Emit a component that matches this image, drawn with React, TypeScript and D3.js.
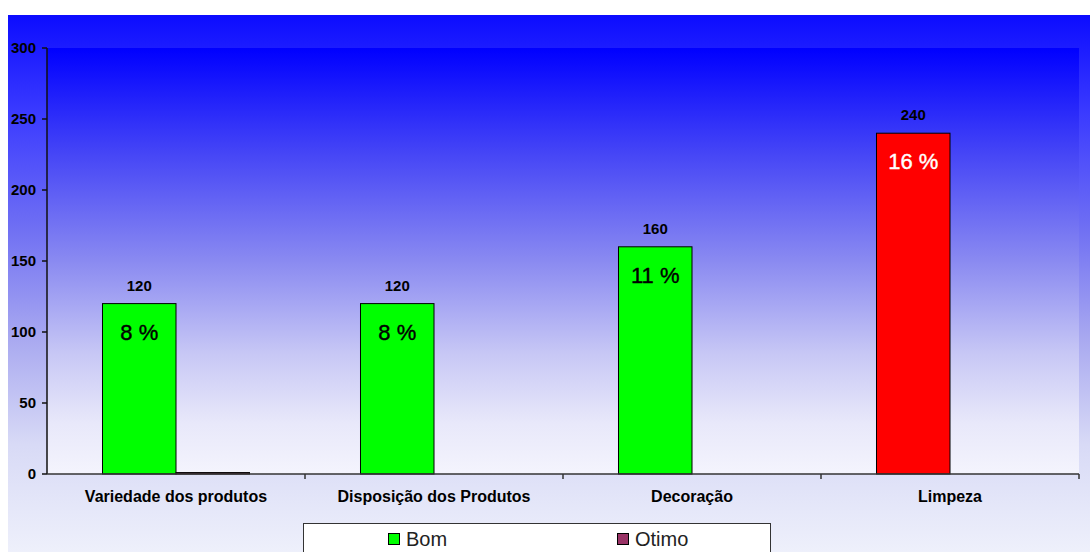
import React from "react";
import * as d3 from "d3";

// Survey results per aspect of the store
const categories = ["Variedade dos produtos", "Disposição dos Produtos", "Decoração", "Limpeza"];
const bomValues = [120, 120, 160, 240];
const otimoValues = [1, 0, 0, 0];
const percentLabels = ["8 %", "8 %", "11 %", "16 %"];
const seriesNames = ["Bom", "Otimo"];
const yTicks = [0, 50, 100, 150, 200, 250, 300];

const W = 1090;
const H = 552;
const margin = { left: 47, right: 11, top: 48, bottom: 78 };
const FONT = "'Liberation Sans', Arial, sans-serif";

const GREEN = "#00ff00";
const RED = "#ff0000";
const PURPLE = "#993366";

export default function App() {
  const x0 = d3
    .scaleBand<string>()
    .domain(categories)
    .range([margin.left, W - margin.right])
    .paddingInner(0)
    .paddingOuter(0);
  const x1 = d3
    .scaleBand<string>()
    .domain(seriesNames)
    .range([0, x0.bandwidth()])
    .paddingInner(0)
    .paddingOuter(0.755);
  const y = d3.scaleLinear().domain([0, 300]).range([H - margin.bottom, margin.top]);

  const plotLeft = margin.left;
  const plotRight = W - margin.right;
  const plotTop = margin.top;
  const plotBottom = H - margin.bottom;

  const barColor = (i: number) => (i === categories.length - 1 ? RED : GREEN);

  return (
    <svg
      width={W}
      height={H}
      style={{ position: "absolute", left: 0, top: 0, display: "block" }}
      fontFamily={FONT}
    >
      <defs>
        <linearGradient id="outerBg" x1="0" y1="0" x2="0" y2="1">
          <stop offset="0" stopColor="#0c0cff" />
          <stop offset="0.18" stopColor="#3a3aff" />
          <stop offset="0.4" stopColor="#7070f3" />
          <stop offset="0.6" stopColor="#a8a8f0" />
          <stop offset="0.8" stopColor="#d8daf6" />
          <stop offset="1" stopColor="#eef0fb" />
        </linearGradient>
        <linearGradient id="plotBg" x1="0" y1="0" x2="0" y2="1">
          <stop offset="0" stopColor="#0000ff" />
          <stop offset="0.25" stopColor="#4646f6" />
          <stop offset="0.5" stopColor="#8a8af1" />
          <stop offset="0.72" stopColor="#c8c8f5" />
          <stop offset="0.88" stopColor="#e8e8fa" />
          <stop offset="1" stopColor="#f4f4fd" />
        </linearGradient>
      </defs>

      <rect x={0} y={0} width={W} height={H} fill="#ffffff" />
      <rect x={8} y={15} width={W - 8} height={H - 15} fill="url(#outerBg)" />
      <rect
        x={plotLeft}
        y={plotTop}
        width={plotRight - plotLeft}
        height={plotBottom - plotTop}
        fill="url(#plotBg)"
      />

      {/* Bom bars */}
      {categories.map((c, i) => {
        const bx = (x0(c) ?? 0) + (x1("Bom") ?? 0);
        const top = y(bomValues[i]);
        return (
          <rect
            key={"bom" + c}
            x={bx}
            y={top}
            width={x1.bandwidth()}
            height={y(0) - top}
            fill={barColor(i)}
            stroke="#000"
            strokeWidth={1}
          />
        );
      })}

      {/* Otimo bars */}
      {categories.map((c, i) => {
        if (otimoValues[i] <= 0) return null;
        const bx = (x0(c) ?? 0) + (x1("Otimo") ?? 0);
        const top = y(otimoValues[i]);
        return (
          <rect
            key={"otimo" + c}
            x={bx}
            y={top}
            width={x1.bandwidth()}
            height={y(0) - top}
            fill={PURPLE}
            stroke="#000"
            strokeWidth={1}
          />
        );
      })}

      {/* value labels above Bom bars */}
      {categories.map((c, i) => {
        const cx = (x0(c) ?? 0) + (x1("Bom") ?? 0) + x1.bandwidth() / 2;
        return (
          <text
            key={"val" + c}
            x={cx}
            y={y(bomValues[i]) - 13}
            textAnchor="middle"
            fontSize={15}
            fontWeight="bold"
            fill="#000"
          >
            {bomValues[i]}
          </text>
        );
      })}

      {/* share labels inside Bom bars */}
      {categories.map((c, i) => {
        const cx = (x0(c) ?? 0) + (x1("Bom") ?? 0) + x1.bandwidth() / 2;
        return (
          <text
            key={"pct" + c}
            x={cx}
            y={y(bomValues[i]) + 36}
            textAnchor="middle"
            fontSize={22}
            fill={i === categories.length - 1 ? "#ffffff" : "#000000"}
            stroke={i === categories.length - 1 ? "#ffffff" : "#000000"}
            strokeWidth={0.4}
          >
            {percentLabels[i]}
          </text>
        );
      })}

      {/* y axis */}
      <line x1={plotLeft} x2={plotLeft} y1={plotTop} y2={plotBottom} stroke="#111" strokeWidth={1.5} />
      {yTicks.map((t) => (
        <g key={"yt" + t}>
          <line x1={plotLeft - 5} x2={plotLeft} y1={y(t)} y2={y(t)} stroke="#111" strokeWidth={1.5} />
          <text
            x={plotLeft - 11}
            y={y(t) + 5}
            textAnchor="end"
            fontSize={15}
            fontWeight="bold"
            fill="#000"
          >
            {t}
          </text>
        </g>
      ))}

      {/* x axis */}
      <line x1={plotLeft} x2={plotRight} y1={plotBottom} y2={plotBottom} stroke="#333" strokeWidth={1.5} />
      {categories.map((c) => {
        const right = (x0(c) ?? 0) + x0.bandwidth();
        return (
          <line
            key={"xt" + c}
            x1={right}
            x2={right}
            y1={plotBottom}
            y2={plotBottom + 5}
            stroke="#333"
            strokeWidth={1.5}
          />
        );
      })}
      {categories.map((c) => (
        <text
          key={"xl" + c}
          x={(x0(c) ?? 0) + x0.bandwidth() / 2}
          y={plotBottom + 28}
          textAnchor="middle"
          fontSize={16}
          fontWeight="bold"
          fill="#000"
        >
          {c}
        </text>
      ))}

      {/* legend */}
      <rect x={303.5} y={523.5} width={467} height={40} fill="#ffffff" stroke="#333" strokeWidth={1} />
      {seriesNames.map((s, i) => {
        const sx = i === 0 ? 388 : 617;
        return (
          <g key={"lg" + s}>
            <rect
              x={sx + 0.5}
              y={533.5}
              width={11}
              height={11}
              fill={i === 0 ? GREEN : PURPLE}
              stroke="#000"
              strokeWidth={1}
            />
            <text x={sx + 18} y={546} fontSize={20} fill="#222">
              {s}
            </text>
          </g>
        );
      })}
    </svg>
  );
}
